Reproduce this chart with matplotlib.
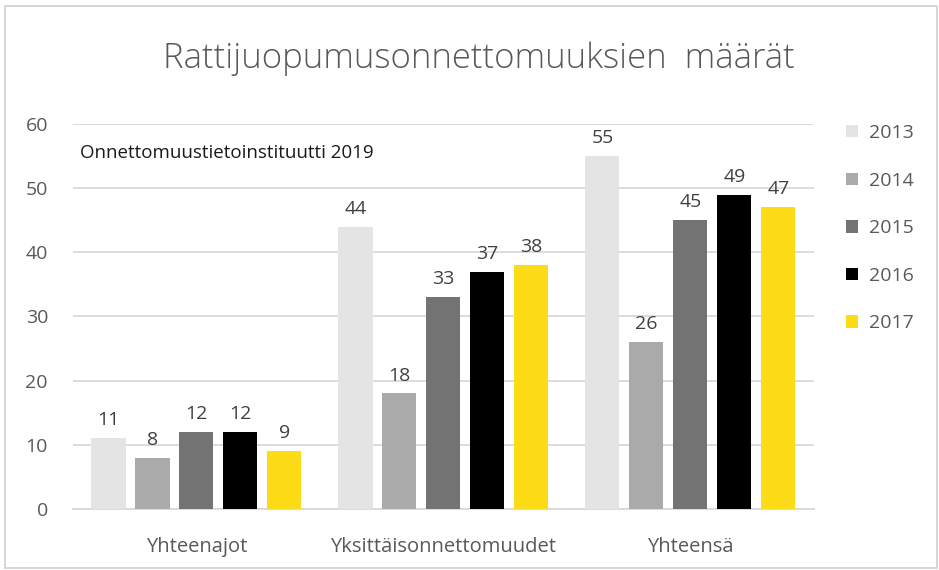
import matplotlib
matplotlib.use("Agg")
import matplotlib.pyplot as plt
import numpy as np
from matplotlib.patches import Rectangle

categories = ["Yhteenajot", "Yksittäisonnettomuudet", "Yhteensä"]
years = ["2013", "2014", "2015", "2016", "2017"]
values = {
    "2013": [11, 44, 55],
    "2014": [8, 18, 26],
    "2015": [12, 33, 45],
    "2016": [12, 37, 49],
    "2017": [9, 38, 47],
}
colors = ["#e4e4e4", "#aaaaaa", "#737373", "#000000", "#fddb17"]

plt.rcParams['font.family'] = ['Open Sans', 'DejaVu Sans']

fig = plt.figure(figsize=(9.39, 5.7), dpi=100)
ax = fig.add_axes([0.0777, 0.107, 0.789, 0.6755])

x = np.arange(len(categories))
step = 0.178
width = 0.138
txt_color = "#595959"
for i, (yr, c) in enumerate(zip(years, colors)):
    pos = x + (i - 2) * step
    bars = ax.bar(pos, values[yr], width=width, color=c, label=yr, zorder=3)
    for b, v in zip(bars, values[yr]):
        ax.text(b.get_x() + b.get_width() / 2, v + 1.4, str(v), ha="center",
                va="bottom", fontsize=14, color="#404040")

ax.set_xlim(-0.5, 2.5)
ax.set_ylim(0, 60)
ax.set_yticks(range(0, 61, 10))
ax.grid(axis="y", color="#d9d9d9", linewidth=1.3, zorder=0)
ax.set_axisbelow(True)
for s in ["top", "right", "left"]:
    ax.spines[s].set_visible(False)
ax.spines["bottom"].set_color("#d9d9d9")
ax.spines["bottom"].set_linewidth(1.3)
ax.set_xticks(x)
ax.set_xticklabels(categories, fontsize=14.5, color=txt_color)
ax.tick_params(axis="x", length=0, pad=20)
ax.tick_params(axis="y", length=0, pad=18, labelsize=14, labelcolor=txt_color)

ax.text(0.01, 0.925, "Onnettomuustietoinstituutti 2019", transform=ax.transAxes,
        fontsize=13.5, color="#1a1a1a", va="center", ha="left")

fig.text(0.51, 0.897, "Rattijuopumusonnettomuuksien  määrät", ha="center",
         va="center", fontsize=25, color="#595959", fontweight="light")

leg = ax.legend(loc="upper left", bbox_to_anchor=(1.02, 1.045), frameon=False,
                fontsize=14, labelcolor=txt_color, handlelength=0.6,
                handleheight=0.6, labelspacing=1.52, handletextpad=0.6)

fig.patches.append(Rectangle((5 / 939, 2 / 570), 932 / 939, 562 / 570,
                             transform=fig.transFigure, fill=False,
                             edgecolor="#d0d0d0", linewidth=1.2))

fig.savefig("out.png", dpi=100)
